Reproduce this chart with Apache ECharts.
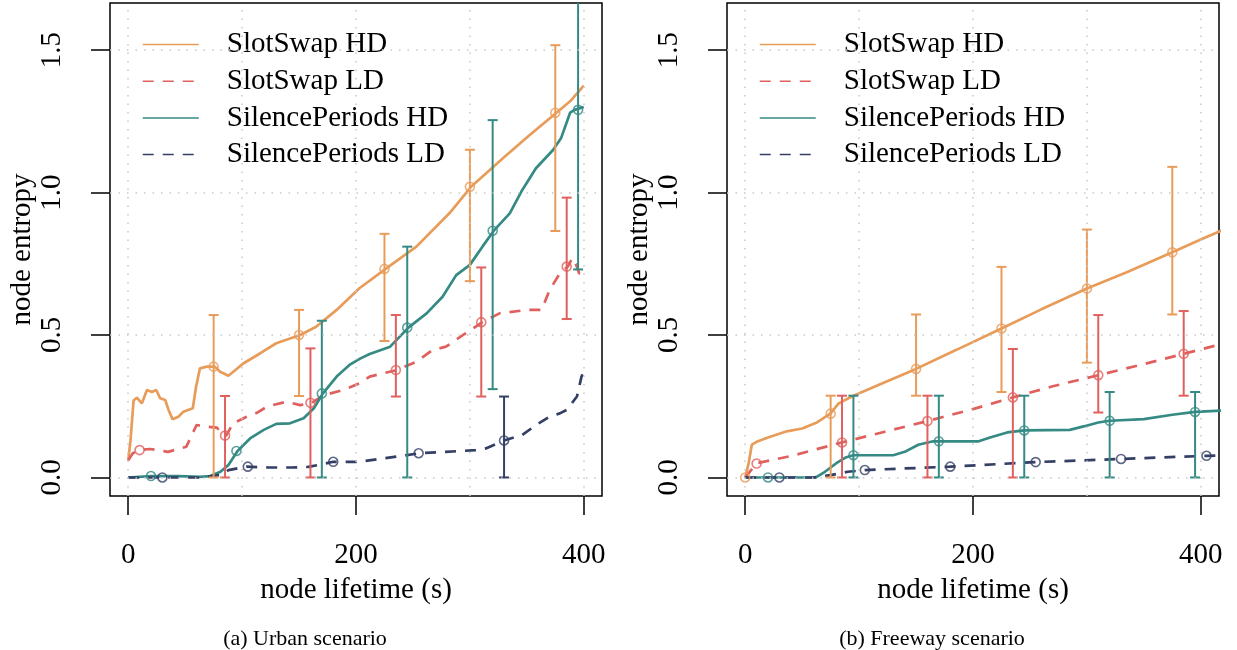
<!DOCTYPE html>
<html>
<head>
<meta charset="utf-8">
<script src="https://cdn.jsdelivr.net/npm/echarts@6/dist/echarts.min.js"></script>
<style>
  html, body { margin: 0; padding: 0; background: #fff; }
  #main { width: 1237px; height: 650px; }
</style>
</head>
<body>
<div id="main"></div>
<script>
// series names and colours
const names = ['SlotSwap HD', 'SlotSwap LD', 'SilencePeriods HD', 'SilencePeriods LD'];
const colors = ['#E89C5A', '#E0605E', '#358A84', '#343F66'];
const dashed = [false, true, false, true];

const xTicks = [0, 200, 400];
const yTicks = [0, 0.5, 1.0, 1.5];
const xGrid = [0, 100, 200, 300, 400];

// (a) urban scenario, curves [lifetime, entropy]
const urbanSlotSwapHD = [[0,0.06],[2,0.13],[4.7,0.27],[7.6,0.28],[12,0.26],[16.4,0.307],[20.8,0.30],[24.6,0.307],
  [28,0.278],[32.5,0.272],[35.4,0.237],[39,0.204],[44,0.213],[48.5,0.231],[56.7,0.243],[59.6,0.319],[63,0.383],
  [69,0.389],[76,0.389],[80.7,0.371],[88,0.357],[101,0.40],[116,0.436],[130,0.471],[151,0.50],[165,0.529],
  [183,0.588],[203,0.664],[226,0.732],[253,0.81],[282,0.927],[301,1.02],[329,1.12],[352,1.20],[376,1.28],
  [388,1.32],[400,1.375]];
const urbanSlotSwapLD = [[0,0.06],[4,0.085],[10,0.096],[19,0.10],[35,0.09],[51,0.108],[56,0.15],[60,0.184],
  [69,0.178],[78,0.175],[82,0.149],[86,0.147],[92,0.19],[104,0.213],[113,0.227],[122,0.249],[139,0.266],
  [151,0.254],[161,0.262],[172,0.289],[189,0.307],[203,0.33],[212,0.354],[236,0.377],[253,0.406],[267,0.447],
  [279,0.459],[294,0.50],[311,0.545],[326,0.576],[350,0.588],[363,0.588],[370,0.658],[379,0.716],[386,0.74],
  [390,0.77],[393,0.75],[396,0.716],[400,0.72]];
const urbanSilenceHD = [[0,0],[20,0.005],[44,0.005],[63,0.002],[72,0.005],[81,0.02],[88,0.044],[96,0.093],
  [107,0.137],[119,0.167],[130,0.188],[142,0.19],[154,0.208],[163,0.243],[171,0.295],[183,0.354],[195,0.397],
  [204,0.418],[212,0.433],[230,0.459],[246,0.526],[262,0.576],[276,0.634],[288,0.71],[300,0.746],[311,0.81],
  [321,0.866],[335,0.927],[346,1.009],[358,1.085],[373,1.149],[380,1.19],[388,1.28],[392,1.29],[400,1.30]];
const urbanSilenceLD = [[0,0],[63,0],[82,0.009],[88,0.026],[104,0.038],[123,0.035],[143,0.035],[158,0.037],
  [167,0.044],[180,0.055],[203,0.055],[224,0.067],[256,0.085],[279,0.09],[305,0.096],[314,0.102],[330,0.13],
  [346,0.149],[358,0.184],[370,0.213],[379,0.225],[385,0.237],[394,0.284],[398,0.354],[400,0.37]];

// (a) markers [lifetime, mean] and error bars [lifetime, low, high]
const urbanSlotSwapHDPts = [[75,0.389],[150,0.50],[225,0.732],[300,1.02],[375,1.28]];
const urbanSlotSwapHDErr = [[75,0,0.57],[150,0.286,0.588],[225,0.479,0.855],[300,0.689,1.15],[375,0.865,1.517]];
const urbanSlotSwapLDPts = [[10,0.096],[85,0.147],[160,0.262],[235,0.377],[310,0.545],[385,0.74]];
const urbanSlotSwapLDErr = [[85,0,0.286],[160,0,0.453],[235,0.284,0.57],[310,0.284,0.737],[385,0.556,0.982]];
const urbanSilenceHDPts = [[20,0.005],[95,0.093],[170,0.295],[245,0.526],[320,0.866],[395,1.29]];
const urbanSilenceHDErr = [[170,0,0.55],[245,0,0.81],[320,0.31,1.254],[395,0.73,1.75]];
const urbanSilenceLDPts = [[30,0],[105,0.038],[180,0.055],[255,0.085],[330,0.13]];
const urbanSilenceLDErr = [[330,0,0.284]];

// (b) freeway scenario
const fwySlotSwapHD = [[0,0],[3,0.05],[5.8,0.115],[10,0.125],[20,0.14],[36.5,0.162],[50,0.172],[63,0.193],
  [75,0.225],[82,0.26],[95,0.287],[120,0.33],[150,0.381],[185,0.447],[225,0.523],[260,0.59],[300,0.663],
  [335,0.72],[375,0.79],[400,0.835],[420,0.87]];
const fwySlotSwapLD = [[0,0],[10,0.05],[40,0.075],[85,0.123],[120,0.158],[160,0.198],[200,0.24],[235,0.281],
  [270,0.32],[310,0.359],[350,0.398],[385,0.434],[420,0.47]];
const fwySilenceHD = [[0,0],[62,0],[70,0.02],[80,0.05],[88,0.07],[95,0.078],[130,0.078],[140,0.09],[152,0.115],
  [165,0.127],[205,0.127],[215,0.14],[230,0.158],[245,0.165],[285,0.167],[298,0.18],[310,0.193],[320,0.199],
  [350,0.205],[375,0.22],[395,0.23],[420,0.235]];
const fwySilenceLD = [[0,0],[60,0],[75,0.008],[90,0.02],[105,0.026],[180,0.038],[255,0.054],[330,0.065],
  [405,0.076],[420,0.077]];

const fwySlotSwapHDPts = [[0,0],[75,0.224],[150,0.381],[225,0.523],[300,0.663],[375,0.79]];
const fwySlotSwapHDErr = [[75,0,0.287],[150,0.287,0.572],[225,0.30,0.739],[300,0.403,0.87],[375,0.572,1.09]];
const fwySlotSwapLDPts = [[10,0.049],[85,0.123],[160,0.198],[235,0.281],[310,0.359],[385,0.434]];
const fwySlotSwapLDErr = [[85,0,0.287],[160,0,0.287],[235,0,0.451],[310,0.228,0.570],[385,0.287,0.584]];
const fwySilenceHDPts = [[20,0],[95,0.078],[170,0.127],[245,0.165],[320,0.199],[395,0.23]];
const fwySilenceHDErr = [[95,0,0.287],[170,0,0.287],[245,0,0.287],[320,0,0.30],[395,0,0.30]];
const fwySilenceLDPts = [[30,0],[105,0.026],[180,0.038],[255,0.054],[330,0.065],[405,0.076]];
const fwySilenceLDErr = [];

const FONT = 'Liberation Serif';

function errRender(color) {
  return function (params, api) {
    const x = api.value(0);
    const a = api.coord([x, api.value(1)]);
    const b = api.coord([x, api.value(2)]);
    const hw = 5;
    const st = { stroke: color, lineWidth: 2 };
    return {
      type: 'group',
      children: [
        { type: 'line', shape: { x1: a[0], y1: a[1], x2: b[0], y2: b[1] }, style: st },
        { type: 'line', shape: { x1: a[0] - hw, y1: a[1], x2: a[0] + hw, y2: a[1] }, style: st },
        { type: 'line', shape: { x1: b[0] - hw, y1: b[1], x2: b[0] + hw, y2: b[1] }, style: st }
      ]
    };
  };
}

function panelSeries(p, lines, pts, errs) {
  const out = [{
    type: 'line', xAxisIndex: p, yAxisIndex: p, data: [[-100, -100]], symbol: 'none',
    silent: true, z: 1, lineStyle: { opacity: 0 },
    markLine: {
      silent: true, symbol: ['none', 'none'], label: { show: false },
      lineStyle: { color: '#c8c8c8', width: 1.5, type: [1.5, 7] },
      data: xGrid.map(v => ({ xAxis: v })).concat(yTicks.map(v => ({ yAxis: v })))
    }
  }];
  names.forEach((n, i) => {
    out.push({
      type: 'line', name: n, xAxisIndex: p, yAxisIndex: p, data: lines[i], symbol: 'none', z: 2,
      clip: true,
      lineStyle: { color: colors[i], width: 2.7, type: dashed[i] ? [11, 9] : 'solid' },
      itemStyle: { color: colors[i] }
    });
    out.push({
      type: 'custom', name: n + ' err', xAxisIndex: p, yAxisIndex: p, data: errs[i], z: 3,
      encode: { x: 0, y: [1, 2] }, renderItem: errRender(colors[i]), clip: true
    });
    out.push({
      type: 'scatter', name: n + ' pts', xAxisIndex: p, yAxisIndex: p, data: pts[i], z: 4,
      symbol: 'circle', symbolSize: 9,
      itemStyle: { color: 'rgba(0,0,0,0)', borderColor: colors[i], borderWidth: 1.6 }
    });
  });
  return out;
}

function xAxis(p) {
  return {
    type: 'value', gridIndex: p, min: -16, max: 416,
    name: 'node lifetime (s)', nameLocation: 'middle', nameGap: 80,
    nameTextStyle: { fontFamily: FONT, fontSize: 29, color: '#000' },
    axisLine: { show: false, onZero: false },
    axisTick: { show: true, inside: false, length: 19, lineStyle: { color: '#000', width: 1.5 }, customValues: xTicks },
    axisLabel: { customValues: xTicks, margin: 45, fontFamily: FONT, fontSize: 29, color: '#000' },
    splitLine: { show: false }
  };
}

function yAxis(p) {
  return {
    type: 'value', gridIndex: p, min: -0.065, max: 1.665,
    name: 'node entropy', nameLocation: 'middle', nameGap: 66,
    nameTextStyle: { fontFamily: FONT, fontSize: 29, color: '#000' },
    axisLine: { show: false, onZero: false },
    axisTick: { show: true, inside: false, length: 19, lineStyle: { color: '#000', width: 1.5 }, customValues: yTicks },
    axisLabel: {
      customValues: yTicks, rotate: 90, margin: 43, fontFamily: FONT, fontSize: 29, color: '#000',
      formatter: v => v.toFixed(1)
    },
    splitLine: { show: false }
  };
}

function legend(left) {
  return {
    left: left, top: 25, orient: 'vertical', selectedMode: false,
    itemWidth: 56, itemHeight: 2, itemGap: 7.7,
    lineStyle: { width: 1.5 },
    itemStyle: { opacity: 0 },
    textStyle: { fontFamily: FONT, fontSize: 29, color: '#000', lineHeight: 26, padding: [0, 0, 0, 23] },
    data: names
  };
}

const chart = echarts.init(document.getElementById('main'), null, { renderer: 'canvas' });
chart.setOption({
  animation: false,
  backgroundColor: '#fff',
  title: [
    { text: '(a) Urban scenario', left: 300, top: 623, textAlign: 'center',
      textStyle: { fontFamily: FONT, fontSize: 22, fontWeight: 'normal', color: '#000' } },
    { text: '(b) Freeway scenario', left: 927, top: 623, textAlign: 'center',
      textStyle: { fontFamily: FONT, fontSize: 22, fontWeight: 'normal', color: '#000' } }
  ],
  legend: [legend(137), legend(754)],
  grid: [
    { left: 110, top: 3, width: 492, height: 493, show: true, borderColor: '#000', borderWidth: 1.5,
      backgroundColor: 'transparent', containLabel: false, outerBoundsMode: 'none' },
    { left: 727, top: 3, width: 492, height: 493, show: true, borderColor: '#000', borderWidth: 1.5,
      backgroundColor: 'transparent', containLabel: false, outerBoundsMode: 'none' }
  ],
  xAxis: [xAxis(0), xAxis(1)],
  yAxis: [yAxis(0), yAxis(1)],
  series: panelSeries(0,
      [urbanSlotSwapHD, urbanSlotSwapLD, urbanSilenceHD, urbanSilenceLD],
      [urbanSlotSwapHDPts, urbanSlotSwapLDPts, urbanSilenceHDPts, urbanSilenceLDPts],
      [urbanSlotSwapHDErr, urbanSlotSwapLDErr, urbanSilenceHDErr, urbanSilenceLDErr])
    .concat(panelSeries(1,
      [fwySlotSwapHD, fwySlotSwapLD, fwySilenceHD, fwySilenceLD],
      [fwySlotSwapHDPts, fwySlotSwapLDPts, fwySilenceHDPts, fwySilenceLDPts],
      [fwySlotSwapHDErr, fwySlotSwapLDErr, fwySilenceHDErr, fwySilenceLDErr]))
});
</script>
</body>
</html>
